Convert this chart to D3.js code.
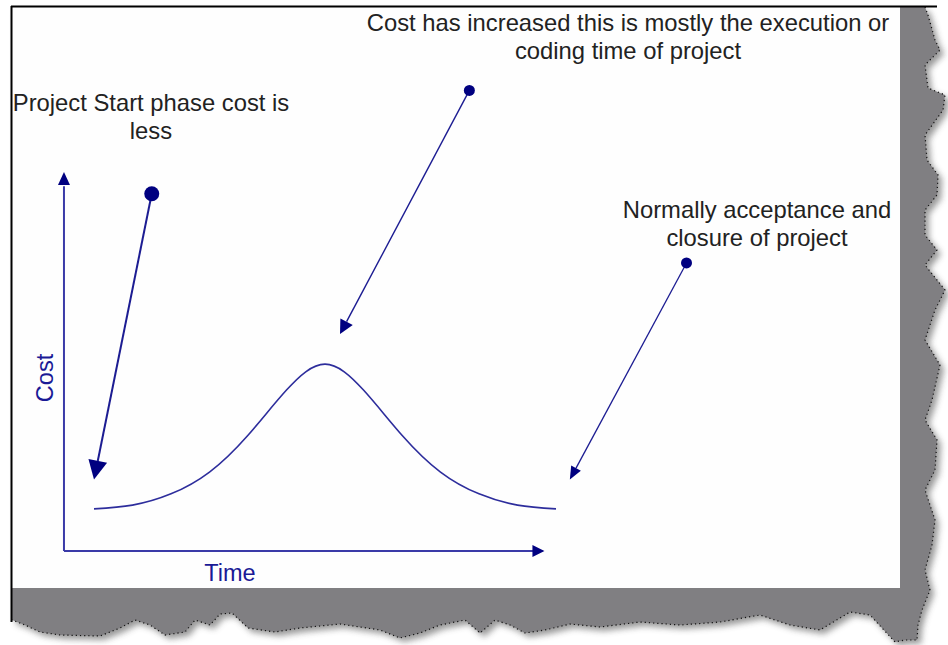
<!DOCTYPE html>
<html><head><meta charset="utf-8">
<script src="https://cdn.jsdelivr.net/npm/d3@7/dist/d3.min.js"></script>
<style>html,body{margin:0;padding:0;background:#fff;}svg{display:block;}</style>
</head><body>
<script>
// ---- data ----
const timeSteps = [0,1,2,3,4,5,6,7,8,9,10,11,12];
const costValues = [11.2,12.2,15.2,21.0,30.8,42.8,49.7,42.8,30.8,21.0,15.2,12.2,11.2];
const axisLabels = {x:"Time", y:"Cost"};
const noteTexts = [
  ["Project Start phase cost is","less"],
  ["Cost has increased this is mostly the execution or","coding time of project"],
  ["Normally acceptance and","closure of project"]
];
// annotation pointers in data space: [time, cost] of dot and of arrow tip
const noteDots = [[1.5,95.0],[9.75,122.5],[15.39,76.6]];
const noteTips = [[0.0,19.0],[6.39,57.7],[12.36,19.0]];

const W=948,H=645;
const svg=d3.select("body").append("svg").attr("width",W).attr("height",H);
const defs=svg.append("defs");
defs.append("filter").attr("id","blur").attr("x","-10%").attr("y","-10%").attr("width","120%").attr("height","120%")
  .append("feGaussianBlur").attr("stdDeviation",3);

// ---- torn paper shadow (decoration) ----
const rightEdge=[[7,925],[15,928],[40,935],[50,940],[65,925],[88,928],[95,945],[110,943],[135,925],[160,927],[175,938],[195,937],[210,925],[235,925],[250,937],[265,925],[290,945],[310,935],[340,925],[365,940],[400,932],[420,925],[440,937],[470,935],[490,925],[520,935],[545,932],[570,925],[590,930],[610,922],[625,918],[640,917]];
const bottomEdge=[[905,640],[895,642],[870,615],[850,612],[820,630],[790,625],[760,615],[720,622],[680,625],[640,622],[600,627],[570,624],[545,630],[525,633],[510,625],[495,620],[480,633],[465,620],[440,625],[420,633],[400,638],[380,630],[340,624],[300,628],[275,632],[248,628],[232,613],[220,614],[210,625],[195,620],[185,632],[165,635],[150,625],[135,620],[120,628],[100,636],[60,635],[40,632],[25,625],[12,620]];
const torn=[[12,7]].concat(rightEdge.map(d=>[d[1],d[0]])).concat(bottomEdge);
const tornLine=d3.line();
svg.append("path").attr("d",tornLine(torn.map(d=>[d[0]+4,d[1]+4]))+"Z").attr("fill","#444").attr("opacity",0.55).attr("filter","url(#blur)");
svg.append("path").attr("d",tornLine(torn)+"Z").attr("fill","#807f82");
svg.append("path").attr("d",tornLine(rightEdge.map(d=>[d[1],d[0]]).concat(bottomEdge)))
  .attr("fill","none").attr("stroke","#111").attr("stroke-width",1.2).attr("stroke-dasharray","1.2,3");
svg.append("rect").attr("x",12).attr("y",7).attr("width",888).attr("height",581).attr("fill","#fefefe");
svg.append("line").attr("x1",11).attr("x2",937).attr("y1",6.5).attr("y2",6.5).attr("stroke","#000").attr("stroke-width",2);

// ---- scales ----
const x=d3.scaleLinear().domain([0,12]).range([94,556]);
const y=d3.scaleLinear().domain([0,100]).range([551,175]);
const navy="#000080", axisBlue="#3a3aa8";
const FONT="Liberation Sans, Arial, sans-serif";

// axes
const x0=x(-0.78), y0=y(0);
svg.append("line").attr("x1",x0).attr("y1",y0).attr("x2",x(11.65)).attr("y2",y0).attr("stroke",axisBlue).attr("stroke-width",2);
svg.append("line").attr("x1",x0).attr("y1",y0).attr("x2",x0).attr("y2",y(97)).attr("stroke",axisBlue).attr("stroke-width",2);
svg.append("path").attr("d",`M${x(11.7)-12},${y0-6}L${x(11.7)},${y0}L${x(11.7)-12},${y0+6}Z`).attr("fill",navy);
svg.append("path").attr("d",`M${x0-6},${y(100.8)+13}L${x0},${y(100.8)}L${x0+6},${y(100.8)+13}Z`).attr("fill",navy);

// curve
svg.append("path").datum(timeSteps.map((t,i)=>[t,costValues[i]]))
  .attr("d",d3.line().x(d=>x(d[0])).y(d=>y(d[1])).curve(d3.curveNatural))
  .attr("fill","none").attr("stroke","#2d2d9c").attr("stroke-width",1.6);

// axis labels
svg.append("text").attr("x",230).attr("y",581).attr("text-anchor","middle")
  .attr("font-family",FONT).attr("font-size",23.5).attr("fill","#1a1a96").text(axisLabels.x);
svg.append("text").attr("transform","translate(53,378) rotate(-90)").attr("text-anchor","middle")
  .attr("font-family",FONT).attr("font-size",23.5).attr("fill","#1a1a96").text(axisLabels.y);

// annotations
const dotR=[7.5,5.5,5.5], headL=[19,14,13], headW=[9.5,7,5.5], lw=[2,1.4,1.3];
noteDots.forEach((d,i)=>{
  const sx=x(d[0]), sy=y(d[1]), tx=x(noteTips[i][0]), ty=y(noteTips[i][1]);
  const ang=Math.atan2(ty-sy,tx-sx), L=headL[i], Wd=headW[i];
  const bx=tx-L*Math.cos(ang), by=ty-L*Math.sin(ang);
  svg.append("line").attr("x1",sx).attr("y1",sy).attr("x2",bx).attr("y2",by).attr("stroke","#1c1c92").attr("stroke-width",lw[i]);
  svg.append("path").attr("d",`M${tx},${ty}L${bx+Wd*Math.sin(ang)},${by-Wd*Math.cos(ang)}L${bx-Wd*Math.sin(ang)},${by+Wd*Math.cos(ang)}Z`).attr("fill",navy);
  svg.append("circle").attr("cx",sx).attr("cy",sy).attr("r",dotR[i]).attr("fill",navy);
});

const notePos=[[151,111],[628,31],[757,218]];
noteTexts.forEach((lines,i)=>{
  const t=svg.append("text").attr("text-anchor","middle").attr("font-family",FONT)
    .attr("font-size",23.8).attr("fill","#222");
  lines.forEach((s,j)=>t.append("tspan").attr("x",notePos[i][0]).attr("y",notePos[i][1]+j*28).text(s));
});
// left border drawn above text so the "P" is clipped like the original
svg.append("line").attr("x1",11.5).attr("x2",11.5).attr("y1",6).attr("y2",622).attr("stroke","#000").attr("stroke-width",2);
</script>
</body></html>
